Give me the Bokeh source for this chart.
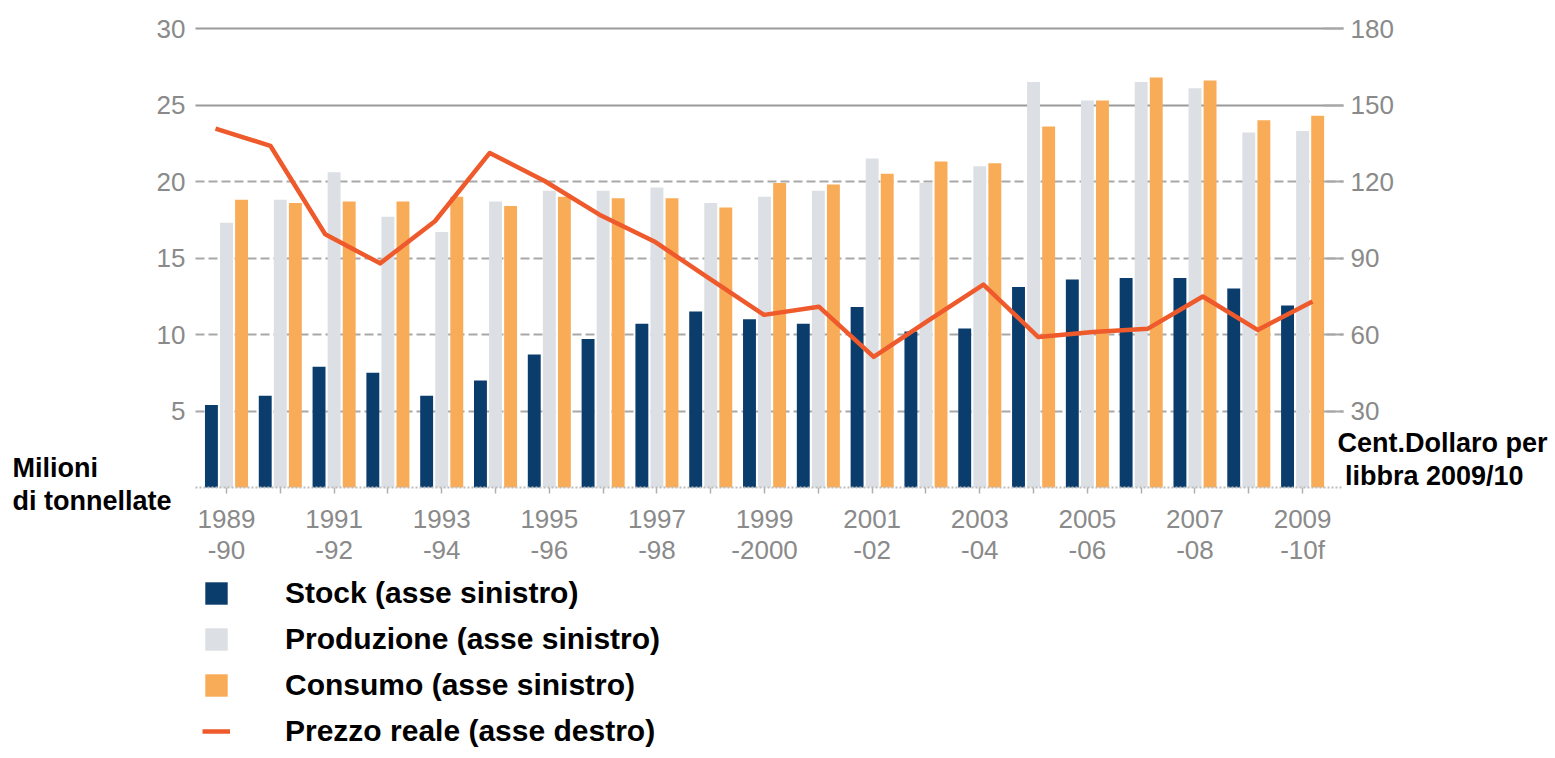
from bokeh.plotting import figure
from bokeh.models import (Range1d, LinearAxis, FixedTicker, Legend, LegendItem,
                          Label, ColumnDataSource, Grid)
from bokeh.transform import dodge
from bokeh.embed import file_html
from bokeh.resources import INLINE

seasons = ["1989-90", "1990-91", "1991-92", "1992-93", "1993-94", "1994-95",
           "1995-96", "1996-97", "1997-98", "1998-99", "1999-2000", "2000-01",
           "2001-02", "2002-03", "2003-04", "2004-05", "2005-06", "2006-07",
           "2007-08", "2008-09", "2009-10f"]
tick_labels = ["1989\n-90", "", "1991\n-92", "", "1993\n-94", "", "1995\n-96", "",
               "1997\n-98", "", "1999\n-2000", "", "2001\n-02", "", "2003\n-04", "",
               "2005\n-06", "", "2007\n-08", "", "2009\n-10f"]
stock = [5.4, 6.0, 7.9, 7.5, 6.0, 7.0, 8.7, 9.7, 10.7, 11.5, 11.0,
         10.7, 11.8, 10.2, 10.4, 13.1, 13.6, 13.7, 13.7, 13.0, 11.9]
production = [17.3, 18.8, 20.6, 17.7, 16.7, 18.7, 19.4, 19.4, 19.6, 18.6, 19.0,
              19.4, 21.5, 19.9, 21.0, 26.5, 25.3, 26.5, 26.1, 23.2, 23.3]
consumption = [18.8, 18.6, 18.7, 18.7, 19.0, 18.4, 19.0, 18.9, 18.9, 18.3, 19.9,
               19.8, 20.5, 21.3, 21.2, 23.6, 25.3, 26.8, 26.6, 24.0, 24.3]
price = [140.7, 134.0, 99.3, 87.9, 104.4, 131.2, 120.2, 107.0, 96.5, 82.0, 67.7,
         70.9, 51.2, 65.5, 79.6, 59.0, 61.0, 62.3, 74.9, 61.8, 72.9]

left_ticks = [5, 10, 15, 20, 25, 30]
right_ticks = [30, 60, 90, 120, 150, 180]

idx = list(range(len(seasons)))
src = ColumnDataSource(dict(idx=idx, season=seasons, stock=stock,
                            production=production, consumption=consumption,
                            price=price))

# chart window inside a frame that covers the whole figure
W, H = 1555, 758
X0, X1 = -0.576, 20.76          # bar x-range shown between the two axes
LX0, LX1 = -0.365, 20.565       # same window for the price line
FL, FR, FT, FB = 195, 1343, 28, 487   # pixel edges of the chart window
px_x = (FR - FL) / (X1 - X0)
px_lx = (FR - FL) / (LX1 - LX0)
px_y = (FB - FT) / 30.0

p = figure(width=W, height=H, output_backend="svg", toolbar_location=None,
           x_range=Range1d(X0 - FL / px_x, X1 + (W - FR) / px_x),
           y_range=Range1d(-(H - FB) / px_y, 30 + FT / px_y),
           min_border_left=0, min_border_right=0, min_border_top=0,
           min_border_bottom=0)
p.extra_x_ranges = {"line": Range1d(LX0 - FL / px_lx, LX1 + (W - FR) / px_lx)}
p.extra_y_ranges = {"price": Range1d(-(H - FB) / px_y * 6, (30 + FT / px_y) * 6)}
p.outline_line_color = None
p.background_fill_color = "white"
p.border_fill_color = "white"

# grids
p.xgrid.visible = False
p.ygrid.ticker = FixedTicker(ticks=[5, 10, 15, 20])
p.ygrid.grid_line_color = "#a8a8a8"
p.ygrid.grid_line_width = 2
p.ygrid.grid_line_dash = "9 4"
p.ygrid.cross_bounds = (X0, X1)
p.add_layout(Grid(dimension=1, ticker=FixedTicker(ticks=[25, 30]),
                  grid_line_color="#9a9a9a", grid_line_width=2,
                  cross_bounds=(X0, X1)))

tick_font = "Liberation Sans"
tick_color = "#8a8a8a"

# left axis
ya = p.yaxis[0]
ya.ticker = FixedTicker(ticks=left_ticks)
ya.fixed_location = X0
ya.axis_line_color = None
ya.major_tick_line_color = None
ya.major_tick_in = 0
ya.major_tick_out = 0
ya.minor_tick_line_color = None
ya.major_label_standoff = 10
ya.major_label_text_font = tick_font
ya.major_label_text_font_size = "26px"
ya.major_label_text_color = tick_color

# right axis
ra = LinearAxis(y_range_name="price", ticker=FixedTicker(ticks=right_ticks),
                fixed_location=X1)
ra.axis_line_color = None
ra.major_tick_line_color = "#a8a8a8"
ra.major_tick_line_width = 2
ra.major_tick_in = 20
ra.major_tick_out = 0
ra.minor_tick_line_color = None
ra.major_label_standoff = 7
ra.major_label_text_font = tick_font
ra.major_label_text_font_size = "26px"
ra.major_label_text_color = tick_color
p.add_layout(ra, "right")

# x axis
xa = p.xaxis[0]
xa.ticker = FixedTicker(ticks=idx)
xa.fixed_location = 0
xa.bounds = (X0, X1)
xa.major_label_overrides = {i: t for i, t in zip(idx, tick_labels)}
xa.axis_line_color = "#bdbdbd"
xa.axis_line_width = 2
xa.axis_line_dash = "2 2"
xa.major_tick_line_color = "#b0b0b0"
xa.major_tick_line_width = 1.5
xa.major_tick_in = 0
xa.major_tick_out = 6
xa.minor_tick_line_color = None
xa.major_label_standoff = 10
xa.major_label_text_font = tick_font
xa.major_label_text_font_size = "26px"
xa.major_label_text_color = tick_color
xa.major_label_text_line_height = 1.05

bw = 0.24
r_stock = p.vbar(x=dodge("idx", -0.28, range=p.x_range), top="stock", width=bw,
                 source=src, fill_color="#0b3d6c", line_color=None)
r_prod = p.vbar(x=dodge("idx", 0.0, range=p.x_range), top="production", width=bw,
                source=src, fill_color="#dcdfe4", line_color=None)
r_cons = p.vbar(x=dodge("idx", 0.28, range=p.x_range), top="consumption", width=bw,
                source=src, fill_color="#f9ac58", line_color=None)
r_line = p.line(x="idx", y="price", source=src, x_range_name="line",
                y_range_name="price", line_color="#ee5a2b", line_width=4.5,
                line_join="round")

legend = Legend(items=[
    LegendItem(label="Stock (asse sinistro)", renderers=[r_stock]),
    LegendItem(label="Produzione (asse sinistro)", renderers=[r_prod]),
    LegendItem(label="Consumo (asse sinistro)", renderers=[r_cons]),
    LegendItem(label="Prezzo reale (asse destro)", renderers=[r_line]),
], location=(202, 10))
legend.label_text_font = "Liberation Sans"
legend.label_text_font_style = "bold"
legend.label_text_font_size = "30px"
legend.label_text_color = "black"
legend.glyph_width = 28
legend.glyph_height = 28
legend.label_standoff = 55
legend.spacing = 12
legend.padding = 0
legend.margin = 0
legend.border_line_color = None
legend.background_fill_alpha = 0
p.add_layout(legend)

p.add_layout(Label(x=12, y=306, x_units="screen", y_units="screen",
                   text="Milioni\ndi tonnellate", text_baseline="top",
                   text_align="left", text_font="Liberation Sans",
                   text_font_style="bold", text_font_size="27px",
                   text_color="black", text_line_height=1.1))
p.add_layout(Label(x=1337, y=331, x_units="screen", y_units="screen",
                   text="Cent.Dollaro per\n\u00a0libbra 2009/10", text_baseline="top",
                   text_align="left", text_font="Liberation Sans",
                   text_font_style="bold", text_font_size="27px",
                   text_color="black", text_line_height=1.1))

open("out.html", "w").write(file_html(p, INLINE))
